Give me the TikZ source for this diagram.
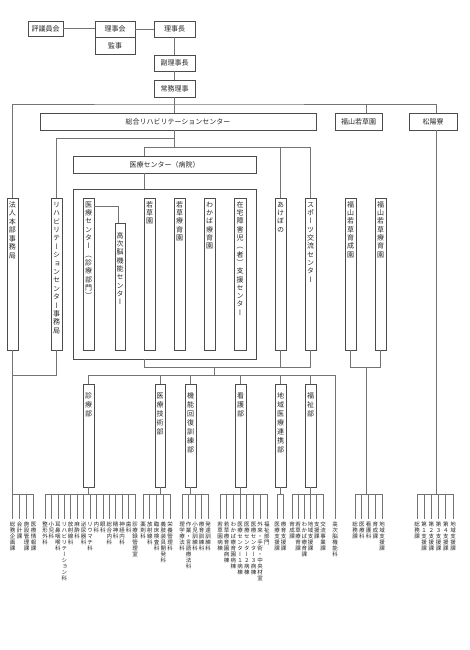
\documentclass[tikz,border=0pt]{standalone}
\usepackage{fontspec}
\setmainfont{Noto Sans CJK JP}
\newfontfamily\vjp[RawFeature=+vert]{Noto Sans CJK JP}
\usetikzlibrary{calc}
\makeatletter
\def\vgap{0pt}
\newcommand\vst[2]{\edef\vst@tmp{#2}\vbox{\offinterlineskip\def\vgap{#1}\expandafter\vst@\vst@tmp\relax}}
\def\vst@#1{\ifx\relax#1\else\hbox to 1em{\hss\vrule height .88em depth .12em width 0pt\relax#1\hss}\kern\vgap\relax\expandafter\vst@\fi}
\makeatother
\tikzset{
  box/.style={draw=black!70, line width=0.7pt, fill=white, inner sep=0pt, outer sep=0pt, anchor=north west},
  ln/.style={draw=black!55, line width=0.7pt},
  ht/.style={font=\fontsize{7}{8}\selectfont, text=black!85},
  vtx/.style={inner sep=0pt, anchor=north, font=\vjp\fontsize{7}{8}\selectfont, text=black!85},
  lf/.style={inner sep=0pt, anchor=north, font=\vjp\fontsize{5.5}{6}\selectfont, text=black!85},
}
\newcommand\leafgrp[5]{%
  \foreach \lbl [count=\i from 0] in {#5} {%
    \node[lf] (#1\i) at ({#2+\i*#3},521) {\vst{0.6pt}{\lbl}};
    \draw[ln] ([yshift=2pt]#1\i.north) -- (#1\i.north |- 0,494);
  }%
  \draw[ln] (#2,494) -- ({#2+(#4-1)*#3},494);
}
\begin{document}
\begin{tikzpicture}[x=1pt,y=-1pt]
\fill[white] (0,0) rectangle (470,650);
\useasboundingbox (0,0) rectangle (470,650);

% top governance
\node[box,ht,minimum width=35,minimum height=15] (hyogi) at (28,21) {評議員会};
\node[box,ht,minimum width=40,minimum height=16] (rijikai) at (95,21) {理事会};
\node[box,ht,minimum width=40,minimum height=17] (kanji) at (95,37) {監事};
\node[box,ht,minimum width=41,minimum height=16] (rijicho) at (154,21) {理事長};
\node[box,ht,minimum width=41,minimum height=16] (fuku) at (154,55) {副理事長};
\node[box,ht,minimum width=41,minimum height=17] (jomu) at (154,80) {常務理事};

% second level
\node[box,ht,minimum width=276,minimum height=17] (soriha) at (40,113) {総合リハビリテーションセンター};
\node[box,ht,minimum width=47,minimum height=17] (fukuen) at (335,113) {福山若草園};
\node[box,ht,minimum width=48,minimum height=17] (shoyo) at (409,113) {松陽寮};
\node[box,ht,minimum width=183,minimum height=17] (medc) at (73,156) {医療センター（病院）};
\node[box,minimum width=183,minimum height=170,fill=none] (big) at (73,189) {};

% vertical units
\node[box,minimum width=11,minimum height=152] (hq) at (7,198) {};
\node[vtx] at ([yshift=-3pt]hq.north) {\vst{1.5pt}{法人本部事務局}};
\node[box,minimum width=11,minimum height=152] (rihaj) at (51,198) {};
\node[vtx] at ([yshift=-3pt]rihaj.north) {\vst{1.4pt}{リハビリテーションセンター事務局}};
\node[box,minimum width=11,minimum height=152] (iryoC) at (83,198) {};
\node[vtx] at ([yshift=-3pt]iryoC.north) {\vst{1.3pt}{医療センター（診療部門）}};
\node[box,minimum width=10,minimum height=127] (koji) at (115,223) {};
\node[vtx] at ([yshift=-9pt]koji.north) {\vst{1.3pt}{高次脳機能センター}};
\node[box,minimum width=11,minimum height=152] (wakakusa) at (144,198) {};
\node[vtx] at ([yshift=-3pt]wakakusa.north) {\vst{1.3pt}{若草園}};
\node[box,minimum width=11,minimum height=152] (wakaryo) at (174,198) {};
\node[vtx] at ([yshift=-3pt]wakaryo.north) {\vst{1.3pt}{若草療育園}};
\node[box,minimum width=11,minimum height=152] (wakaba) at (204,198) {};
\node[vtx] at ([yshift=-3pt]wakaba.north) {\vst{1.3pt}{わかば療育園}};
\node[box,minimum width=12,minimum height=152] (zaitaku) at (234,198) {};
\node[vtx] at ([yshift=-3pt]zaitaku.north) {\vst{1.3pt}{在宅障害児（者）支援センター}};
\node[box,minimum width=11,minimum height=152] (akebono) at (275,198) {};
\node[vtx] at ([yshift=-3pt]akebono.north) {\vst{1.3pt}{あけぼの}};
\node[box,minimum width=11,minimum height=152] (sports) at (305,198) {};
\node[vtx] at ([yshift=-3pt]sports.north) {\vst{1.3pt}{スポーツ交流センター}};
\node[box,minimum width=11,minimum height=152] (fukuiku) at (345,198) {};
\node[vtx] at ([yshift=-3pt]fukuiku.north) {\vst{1.3pt}{福山若草育成園}};
\node[box,minimum width=11,minimum height=152] (fukuryo) at (375,198) {};
\node[vtx] at ([yshift=-3pt]fukuryo.north) {\vst{1.3pt}{福山若草療育園}};

% departments
\node[box,minimum width=11,minimum height=103] (shinryo) at (83,384) {};
\node[vtx] at ([yshift=-8pt]shinryo.north) {\vst{2pt}{診療部}};
\node[box,minimum width=10,minimum height=103] (gijutsu) at (155,384) {};
\node[vtx] at ([yshift=-8pt]gijutsu.north) {\vst{2pt}{医療技術部}};
\node[box,minimum width=11,minimum height=103] (kino) at (185,384) {};
\node[vtx] at ([yshift=-8pt]kino.north) {\vst{2pt}{機能回復訓練部}};
\node[box,minimum width=11,minimum height=103] (kango) at (235,384) {};
\node[vtx] at ([yshift=-8pt]kango.north) {\vst{2pt}{看護部}};
\node[box,minimum width=11,minimum height=103] (renkei) at (275,384) {};
\node[vtx] at ([yshift=-8pt]renkei.north) {\vst{2pt}{地域医療連携部}};
\node[box,minimum width=11,minimum height=103] (fukushi) at (305,384) {};
\node[vtx] at ([yshift=-8pt]fukushi.north) {\vst{2pt}{福祉部}};

% connectors top
\draw[ln] (hyogi.east) -- (hyogi.east -| rijikai.west);
\draw[ln] (rijikai.east) -- (rijikai.east -| rijicho.west);
\draw[ln] (rijicho.south) -- (fuku.north);
\draw[ln] (fuku.south) -- (jomu.north);
\draw[ln] (jomu.south) -- (jomu.south |- soriha.north);
\coordinate (busA) at (jomu.south |- 0,104);
\draw[ln] (hq.north) |- (busA) -| ([xshift=3pt]shoyo.north);
\draw[ln] ([xshift=7.5pt]fukuen.north) -- ([xshift=7.5pt]fukuen.north |- busA);

% below soriha
\coordinate (busB) at (jomu.south |- 0,147);
\coordinate (busB0) at (jomu.south |- 0,138);
\draw[ln] (soriha.south -| busB) -- (busB);
\draw[ln] (rihaj.north) |- (busB0);
\coordinate (xm) at (144,0);
\draw[ln] (medc.north -| xm) |- (sports.north |- busB) -- (sports.north);
\draw[ln] (akebono.north) -- (akebono.north |- busB);
\draw[ln] (medc.south -| xm) -- (big.north -| xm);
\draw[ln] (iryoC.east |- 0,206) -| ([xshift=-2pt]koji.north);

% below big box
\coordinate (busC) at (214,367);
\coordinate (busD) at (214,375);
\draw[ln] (big.south -| xm) |- (sports.south |- busC) -- (sports.south);
\draw[ln] (akebono.south) -- (akebono.south |- busC);
\draw[ln] (busC) -- (busD);
\leafgrp{gK}{335}{0}{1}{高次脳機能科}
\draw[ln] (shinryo.north) |- (gK0.north |- busD) -- ([yshift=2pt]gK0.north);
\foreach \d in {gijutsu,kino,kango,renkei,fukushi} {\draw[ln] (\d.north) -- (\d.north |- busD);}

% fukuyama
\coordinate (busF) at (366,367);
\draw[ln] (fukuiku.south) |- (fukuryo.south |- busF) -- (fukuryo.south);
\draw[ln] (busF) -- (busF |- 0,494);
% shoyo
\draw[ln] ([xshift=3pt]shoyo.south) -- ([xshift=3pt]shoyo.south |- 0,494);
% left units
\draw[ln] (hq.south) -- (hq.south |- 0,494);
\draw[ln] (rihaj.south) |- (hq.south |- 0,375);
\foreach \d in {shinryo,gijutsu,kino,kango,renkei,fukushi} {\draw[ln] (\d.south) -- (\d.south |- 0,494);}

% leaves
\leafgrp{gA}{12.5}{7}{4}{総務企画課,会計課,施設管理課,医療情報課}
\leafgrp{gB}{45}{6.43}{15}{整形外科,小児科,耳鼻咽喉科,リハビリテーション科,放射線科,麻酔科,泌尿器科,リウマチ科,内科,眼科,総合内科,精神科,神経内科,歯科,診療録管理室}
\leafgrp{gC}{143}{6.75}{5}{薬剤科,放射線科,臨床検査科,義肢装具開発科,栄養管理科}
\leafgrp{gD}{182}{6.5}{5}{理学療法科,作業・言語療法科,小児訓練科,療育訓練科,発達訓練科}
\leafgrp{gE}{220}{6.7}{8}{若草園病棟,若草療育園病棟,わかば療育園病棟,医療センター１病棟,医療センター２病棟,医療センター３病棟,外来・手術・中央材室,福祉部門}
\leafgrp{gF}{277}{6.5}{2}{医療支援課,療育支援課}
\leafgrp{gG}{292}{6.2}{6}{育成課,若草療育課,わかば療育課,地域支援課,支援課,交流事業課}
\leafgrp{gH}{355}{6.75}{5}{総務課,医療科,看護科,育成課,地域支援課}
\leafgrp{gI}{417}{7.2}{6}{総務課,第１支援課,第２支援課,第３支援課,第４支援課,地域支援課}
\end{tikzpicture}
\end{document}
